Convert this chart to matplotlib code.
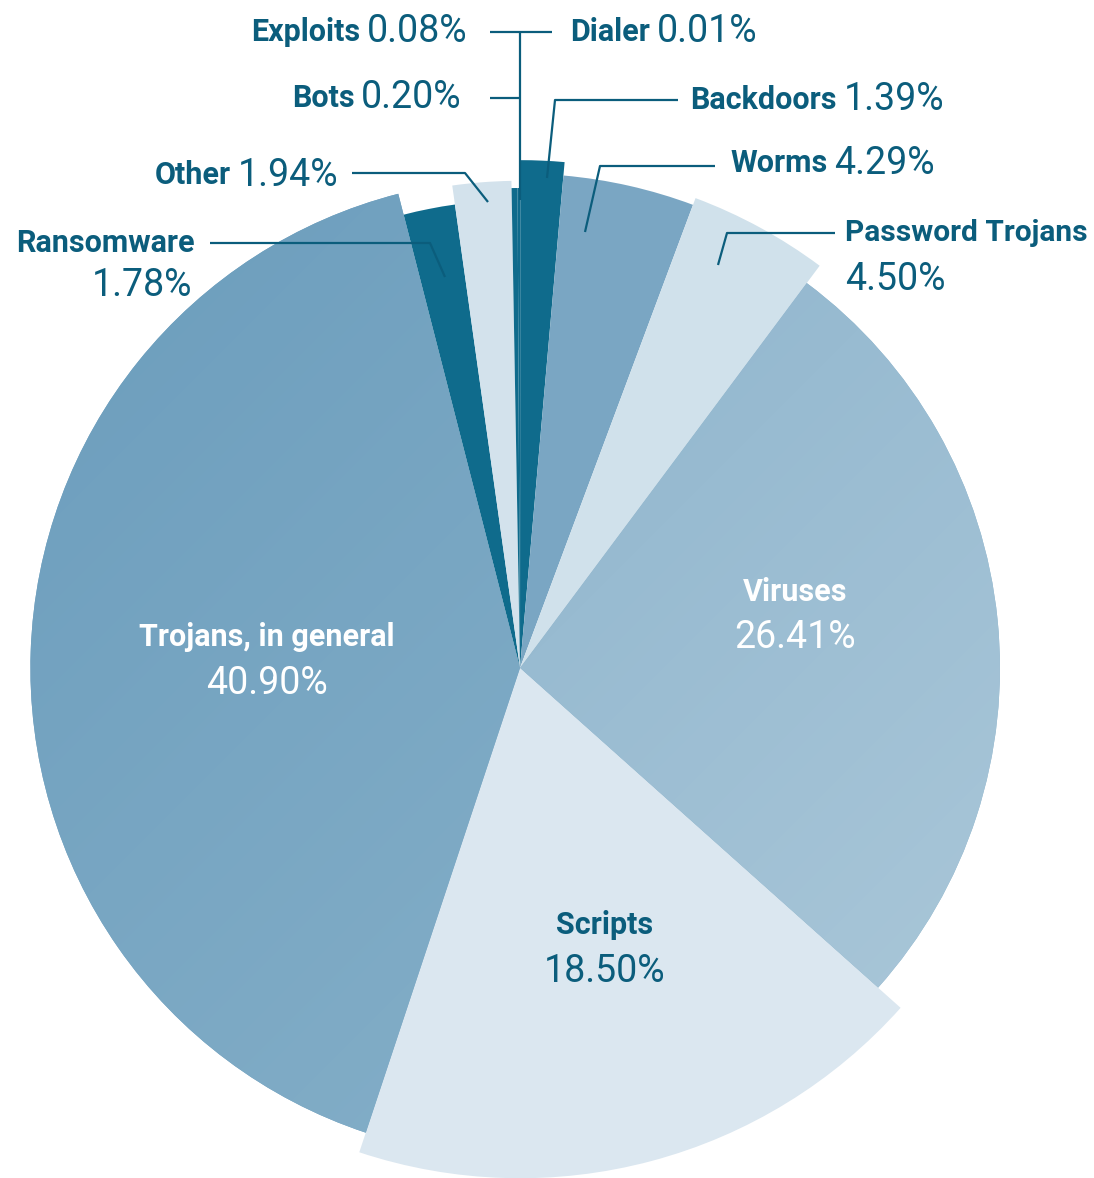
import matplotlib
matplotlib.use('Agg')
import matplotlib.pyplot as plt
import numpy as np

# slices, clockwise from 12 o'clock
categories = ['Dialer', 'Backdoors', 'Worms', 'Password Trojans', 'Viruses',
              'Scripts', 'Trojans, in general', 'Ransomware', 'Other', 'Bots', 'Exploits']
shares = [0.01, 1.39, 4.29, 4.50, 26.41, 18.50, 40.90, 1.78, 1.94, 0.20, 0.08]
value_labels = ['0.01%', '1.39%', '4.29%', '4.50%', '26.41%', '18.50%',
                '40.90%', '1.78%', '1.94%', '0.20%', '0.08%']

# style per slice (radius relative to the base pie)
radii = [1.0, 1.058, 1.03, 1.045, 1.0, 1.063, 1.02, 0.975, 1.015, 1.0, 1.0]
DARK = '#0f6b8c'
colors = [DARK, DARK, '#7aa6c3', '#d0e1eb', '#8fb5cc', '#dbe7f0',
          '#74a3c1', DARK, '#d3e2ec', DARK, DARK]
gradients = {'Viruses': ('#83adc8', '#adc9da'),
             'Trojans, in general': ('#6a9cbc', '#8db5cc')}

TXT = '#0b5d7c'
plt.rcParams['font.family'] = ['Roboto', 'DejaVu Sans']

W, H = 1094, 1178
R = 480.0           # base radius in pixels
CX, CY = 520, 668   # pie centre in image pixels


def px(x, y):
    # image pixel -> data coords (unit = base radius)
    return (x - CX) / R, (CY - y) / R


fig = plt.figure(figsize=(W / 100, H / 100), dpi=100)
ax = fig.add_axes([0, 0, 1, 1])

wedges, _ = ax.pie(shares, startangle=90, counterclock=False, colors=colors,
                   radius=1.0, center=(0, 0), frame=True,
                   wedgeprops=dict(linewidth=0))

for w, r, name in zip(wedges, radii, categories):
    w.set_radius(r)
    if name in gradients:
        c0, c1 = gradients[name]
        c0 = np.array(matplotlib.colors.to_rgb(c0))
        c1 = np.array(matplotlib.colors.to_rgb(c1))
        gx, gy = np.meshgrid(np.linspace(0, 1, 200), np.linspace(0, 1, 200))
        t = np.clip((gx + gy) / 2, 0, 1)[..., None]
        img = c0 * (1 - t) + c1 * t
        im = ax.imshow(img, extent=(-r * 1.05, r * 1.05, -r * 1.05, r * 1.05),
                       origin='upper', zorder=w.get_zorder() + 0.1,
                       interpolation='bilinear')
        im.set_clip_path(w)

ax.set_xlim(-CX / R, (W - CX) / R)
ax.set_ylim(-(H - CY) / R, CY / R)
ax.set_aspect('equal')
ax.axis('off')

LW = 1.6


def leader(points):
    xs, ys = zip(*[px(*p) for p in points])
    ax.plot(xs, ys, color=TXT, lw=LW, solid_capstyle='butt', zorder=5)


NAME_FS = 22
VAL_FS = 27


def label_line(name, value, x, y, align):
    # bold name followed by the value on one line
    if align == 'left':
        t = ax.text(*px(x, y), name, ha='left', va='center', fontsize=NAME_FS,
                    fontweight='bold', color=TXT, zorder=6)
        ax.annotate(value, xy=(1, 0.5), xycoords=t, xytext=(5, 0),
                    textcoords='offset points', ha='left', va='center',
                    fontsize=VAL_FS, color=TXT, zorder=6)
    else:
        t = ax.text(*px(x, y), value, ha='right', va='center', fontsize=VAL_FS,
                    color=TXT, zorder=6)
        ax.annotate(name, xy=(0, 0.5), xycoords=t, xytext=(-5, 0),
                    textcoords='offset points', ha='right', va='center',
                    fontsize=NAME_FS, fontweight='bold', color=TXT, zorder=6)


vals = dict(zip(categories, value_labels))

# leader lines
leader([(520, 32), (520, 200)])
leader([(490, 32), (552, 32)])
leader([(490, 98), (520, 98)])
leader([(547, 178), (555, 100), (678, 100)])
leader([(585, 232), (600, 166), (715, 166)])
leader([(718, 265), (727, 233), (835, 233)])
leader([(352, 173), (465, 173), (488, 202)])
leader([(210, 243), (430, 243), (445, 277)])

label_line('Exploits', vals['Exploits'], 468, 32, 'right')
label_line('Dialer', vals['Dialer'], 570, 32, 'left')
label_line('Bots', vals['Bots'], 462, 98, 'right')
label_line('Backdoors', vals['Backdoors'], 690, 100, 'left')
label_line('Worms', vals['Worms'], 730, 163, 'left')
label_line('Other', vals['Other'], 338, 175, 'right')

ax.text(*px(195, 243), 'Ransomware', ha='right', va='center', fontsize=NAME_FS,
        fontweight='bold', color=TXT)
ax.text(*px(192, 285), vals['Ransomware'], ha='right', va='center',
        fontsize=VAL_FS, color=TXT)
ax.text(*px(845, 233), 'Password Trojans', ha='left', va='center',
        fontsize=NAME_FS - 0.5, fontweight='bold', color=TXT)
ax.text(*px(845, 280), vals['Password Trojans'], ha='left', va='center',
        fontsize=VAL_FS, color=TXT)

# labels inside the big slices
inside = [('Viruses', 795, 592, 'white'),
          ('Trojans, in general', 267, 637, 'white'),
          ('Scripts', 605, 925, TXT)]
for name, x, y, col in inside:
    ax.text(*px(x, y), name, ha='center', va='center', fontsize=NAME_FS,
            fontweight='bold', color=col, zorder=6)
    ax.text(*px(x, y + 46), vals[name], ha='center', va='center',
            fontsize=VAL_FS, color=col, zorder=6)

fig.savefig('out.png', dpi=100)
